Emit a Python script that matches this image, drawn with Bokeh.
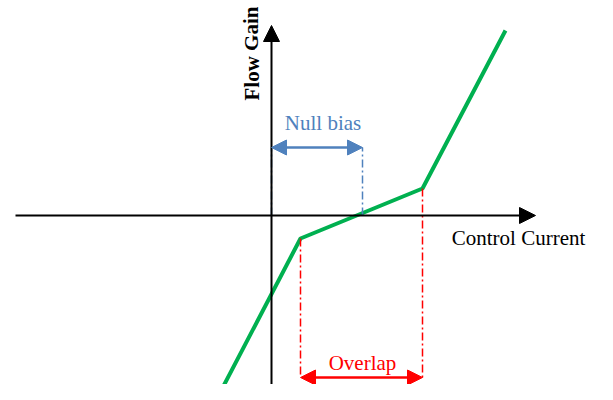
from bokeh.plotting import figure
from bokeh.models import Range1d, Arrow, NormalHead
from bokeh.core.properties import value
from bokeh.embed import file_html
from bokeh.resources import INLINE

# Data (diagram units, origin at axes intersection)
ctrl_current = [-54, 29, 151, 234]
flow_gain = [-182, -23, 27, 185]
null_bias = [0, 91]
overlap = [29, 151]
x_label = "Control Current"
y_label = "Flow Gain"
null_label = "Null bias"
overlap_label = "Overlap"

GREEN = "#00b050"
BLUE = "#4f81bd"
RED = "#ff0000"
FONT = value("Liberation Serif")

p = figure(width=597, height=384, output_backend="svg", toolbar_location=None,
           x_range=Range1d(-271, 326), y_range=Range1d(-169, 215),
           min_border=0, outline_line_color=None)
p.axis.visible = False
p.grid.visible = False
p.background_fill_color = "white"

# axes with arrows
p.add_layout(Arrow(end=NormalHead(size=16, fill_color="black", line_color="black"),
                   x_start=-256, y_start=0, x_end=264, y_end=0,
                   line_color="black", line_width=2))
p.add_layout(Arrow(end=NormalHead(size=16, fill_color="black", line_color="black"),
                   x_start=0, y_start=-185, x_end=0, y_end=190,
                   line_color="black", line_width=2))

# green characteristic
p.line(ctrl_current, flow_gain, line_color=GREEN, line_width=4)

# null bias guides
nb_y = 68
for xv in null_bias:
    p.line([xv, xv], [0, nb_y], line_color=BLUE, line_width=1.5, line_dash="8 3 2 3")
p.add_layout(Arrow(start=NormalHead(size=15, fill_color=BLUE, line_color=BLUE),
                   end=NormalHead(size=15, fill_color=BLUE, line_color=BLUE),
                   x_start=null_bias[0], y_start=nb_y, x_end=null_bias[1], y_end=nb_y,
                   line_color=BLUE, line_width=2.5))
p.text(x=[sum(null_bias) / 2 + 6], y=[93], text=[null_label], text_font=FONT,
       text_font_size="21px", text_color=BLUE, text_align="center", text_baseline="middle")

# overlap guides
ov_y = -162
for i, xv in enumerate(overlap):
    yv = flow_gain[1] if i == 0 else flow_gain[2]
    p.line([xv, xv], [yv, ov_y], line_color=RED, line_width=1.5, line_dash="8 3 2 3")
p.add_layout(Arrow(start=NormalHead(size=15, fill_color=RED, line_color=RED),
                   end=NormalHead(size=15, fill_color=RED, line_color=RED),
                   x_start=overlap[0], y_start=ov_y, x_end=overlap[1], y_end=ov_y,
                   line_color=RED, line_width=2.5))
p.text(x=[sum(overlap) / 2 + 1], y=[-147], text=[overlap_label], text_font=FONT,
       text_font_size="21px", text_color=RED, text_align="center", text_baseline="middle")

# axis labels
p.text(x=[247], y=[-22], text=[x_label], text_font=FONT, text_font_size="21px",
       text_color="black", text_align="center", text_baseline="middle")
p.text(x=[-20], y=[162], text=[y_label], text_font=FONT, text_font_size="21px",
       text_font_style="bold", text_color="black", text_align="center",
       text_baseline="middle", angle=1.5708)

open("out.html", "w").write(file_html(p, INLINE))
